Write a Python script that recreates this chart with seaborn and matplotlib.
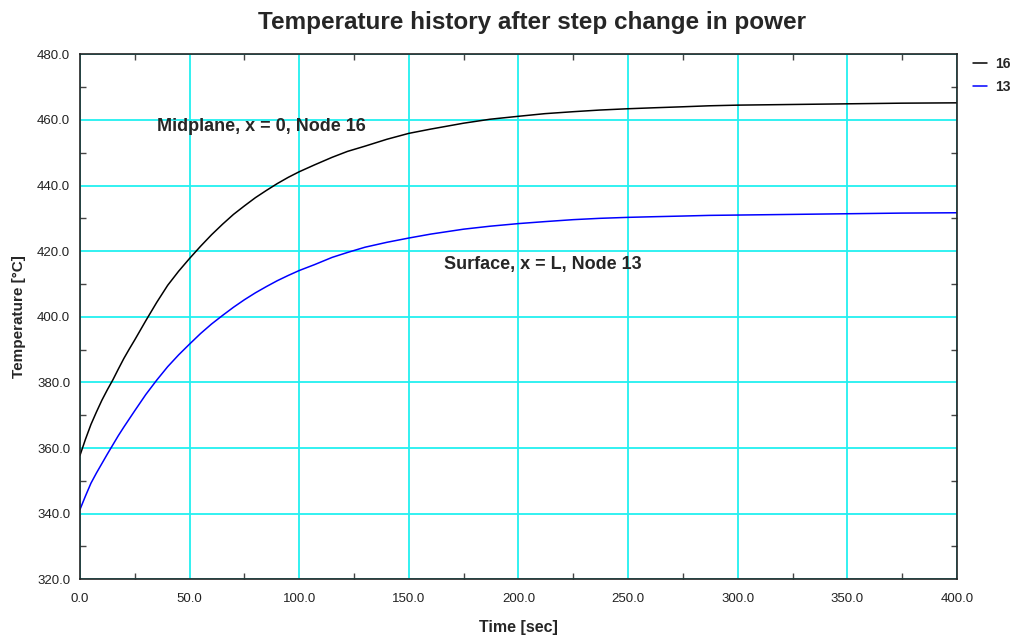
import pandas as pd
import matplotlib.pyplot as plt
import seaborn as sns
from matplotlib.ticker import MultipleLocator, FormatStrFormatter

# Values
time_sec = [0, 2.5, 5, 7.5, 10, 12.5, 15, 17.5, 20, 22.5, 25, 30, 35, 40, 45, 50,
            55, 60, 65, 70, 75, 80, 85, 90, 95, 100, 107, 115, 122, 130, 140, 150,
            160, 175, 187, 200, 212, 225, 237, 250, 262, 275, 287, 300, 325, 350,
            375, 400]
node16_temp = [357.8, 362.7, 367.2, 371.0, 374.6, 377.8, 380.8, 384.1, 387.3, 390.2,
               393.0, 398.8, 404.4, 409.6, 413.9, 417.8, 421.5, 425.0, 428.2, 431.2,
               433.8, 436.3, 438.5, 440.6, 442.5, 444.2, 446.3, 448.6, 450.4, 452.0,
               454.1, 455.9, 457.2, 459.0, 460.2, 461.1, 461.9, 462.5, 463.0, 463.4,
               463.7, 464.0, 464.3, 464.5, 464.7, 464.9, 465.1, 465.2]
node13_temp = [341.3, 345.4, 349.3, 352.4, 355.3, 358.2, 361.0, 363.8, 366.4, 368.9,
               371.4, 376.3, 380.7, 384.8, 388.4, 391.7, 394.9, 397.8, 400.4, 402.9,
               405.2, 407.3, 409.2, 411.0, 412.6, 414.1, 415.9, 418.1, 419.6, 421.2,
               422.7, 424.0, 425.2, 426.7, 427.6, 428.4, 429.0, 429.6, 430.0, 430.3,
               430.5, 430.7, 430.9, 431.0, 431.2, 431.4, 431.6, 431.7]
node_names = ["16", "13"]
node_colors = {"16": "black", "13": "blue"}

df = pd.concat([
    pd.DataFrame({"Time": time_sec, "Temp": node16_temp, "Node": "16"}),
    pd.DataFrame({"Time": time_sec, "Temp": node13_temp, "Node": "13"}),
])

sns.set_style("white")
plt.rcParams["font.family"] = ["Liberation Sans", "DejaVu Sans"]

fig = plt.figure(figsize=(10.18, 6.37), dpi=100)
ax = fig.add_axes([0.0786, 0.0906, 0.8614, 0.8242])

sns.lineplot(data=df, x="Time", y="Temp", hue="Node", hue_order=node_names,
             palette=node_colors, linewidth=1.1, ax=ax)

ax.set_xlim(0, 400)
ax.set_ylim(320, 480)
ax.xaxis.set_major_locator(MultipleLocator(50))
ax.xaxis.set_minor_locator(MultipleLocator(25))
ax.yaxis.set_major_locator(MultipleLocator(20))
ax.yaxis.set_minor_locator(MultipleLocator(10))
ax.xaxis.set_major_formatter(FormatStrFormatter("%.1f"))
ax.yaxis.set_major_formatter(FormatStrFormatter("%.1f"))

ax.grid(True, which="major", color="#22f0f0", linewidth=1.3)
ax.set_axisbelow(True)
ax.tick_params(which="major", length=0, labelsize=9.5, colors="#222222", pad=7)
ax.tick_params(axis="x", which="major", pad=10)
ax.tick_params(which="minor", direction="in", length=4, width=1, color="#444444",
               top=True, right=True, bottom=True, left=True)
for sp in ax.spines.values():
    sp.set_visible(True)
    sp.set_color("#222222")
    sp.set_linewidth(1.2)

ax.set_xlabel("Time [sec]", fontsize=11.5, fontweight="bold", labelpad=11)
ax.set_ylabel("Temperature [°C]", fontsize=11, fontweight="bold", labelpad=8)
fig.suptitle("Temperature history after step change in power", fontsize=17.5,
             fontweight="bold", x=0.523, y=0.983)

ax.text(35, 458, "Midplane, x = 0, Node 16", fontsize=13, fontweight="bold",
        va="center", ha="left")
ax.text(166, 415.8, "Surface, x = L, Node 13", fontsize=13, fontweight="bold",
        va="center", ha="left")

ax.legend(loc="upper left", bbox_to_anchor=(0.956, 0.91), bbox_transform=fig.transFigure,
          frameon=False, handlelength=1.0, handletextpad=0.6, labelspacing=0.6,
          borderpad=0, borderaxespad=0, prop={"weight": "bold", "size": 10})

fig.savefig("out.png", dpi=100)
